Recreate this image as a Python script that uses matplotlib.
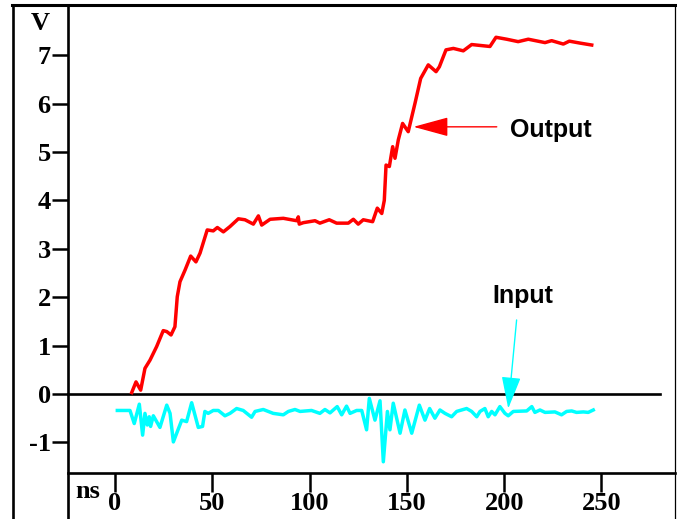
import matplotlib
matplotlib.use("Agg")
import matplotlib.pyplot as plt
from matplotlib.lines import Line2D

# output trace (red), ns / V
out_t = [8.6, 10.8, 13.2, 15.4, 18, 21.4, 24.8, 26.6, 28.8, 30.8,
         32, 33.4, 36, 38.9, 41.6, 43.7, 47.4, 50.5, 52.6, 55.7,
         59.1, 63.4, 66.8, 71.1, 73.7, 75.4, 79.7, 86.5, 93.4, 94.2,
         94.7, 96.8, 102.8, 105.3, 110.1, 113.9, 119.9, 122.5, 125, 127.6,
         132.4, 134.8, 137.1, 138.4, 139.3, 141, 142.7, 143.9, 145.6, 147.8,
         150.7, 154.2, 157.1, 161, 165, 166.7, 170.1, 173.9, 179, 183.3,
         192.7, 195.8, 201.3, 207.2, 212.4, 221, 224.4, 230.4, 233.5, 239,
         245]
out_v = [0.03, 0.25, 0.08, 0.53, 0.70, 0.98, 1.31, 1.29, 1.22, 1.39,
         2.01, 2.32, 2.56, 2.85, 2.73, 2.91, 3.39, 3.37, 3.44, 3.35,
         3.46, 3.62, 3.60, 3.51, 3.68, 3.49, 3.61, 3.63, 3.58, 3.66,
         3.51, 3.54, 3.58, 3.53, 3.60, 3.53, 3.53, 3.61, 3.51, 3.60,
         3.56, 3.84, 3.73, 4.0, 4.73, 4.70, 5.11, 4.87, 5.25, 5.59,
         5.42, 6.01, 6.52, 6.80, 6.66, 6.76, 7.11, 7.14, 7.09, 7.22,
         7.18, 7.37, 7.33, 7.28, 7.33, 7.26, 7.30, 7.23, 7.29, 7.25,
         7.21]

# input trace (cyan)
in_t = [1.2, 7.7, 9.9, 12.5, 14.2, 15.4, 16.6, 17.6, 18.3, 19.7,
        23.1, 26.6, 28.3, 30, 34.3, 36.8, 39.4, 42.8, 45, 46.2,
        47.9, 50.5, 53.1, 56.5, 59.1, 62.5, 65.9, 70.2, 72, 76.2,
        81.3, 86.5, 89.1, 92.5, 95.1, 101, 105.3, 107.9, 110.5, 114.2,
        116.5, 119, 120.8, 124.2, 126.8, 129.3, 130.7, 133.6, 136.2, 137.9,
        140, 141.3, 143, 146.5, 149, 152.5, 156.4, 159.3, 161.7, 164.4,
        167, 169.6, 173, 175.6, 180.7, 183.3, 185.9, 187.6, 190.1, 191.8,
        193.6, 195.3, 197.8, 200.4, 202.1, 204.7, 211.6, 214.2, 215.8, 218.4,
        221, 226.1, 229.5, 232.1, 234.7, 237.2, 240.7, 243.2, 245.8]
in_v = [-0.34, -0.34, -0.61, -0.21, -0.85, -0.40, -0.64, -0.47, -0.67, -0.45,
        -0.69, -0.23, -0.40, -0.99, -0.54, -0.57, -0.18, -0.69, -0.67, -0.36,
        -0.40, -0.34, -0.34, -0.45, -0.40, -0.30, -0.34, -0.48, -0.36, -0.32,
        -0.40, -0.43, -0.36, -0.32, -0.36, -0.34, -0.40, -0.32, -0.39, -0.26,
        -0.43, -0.25, -0.40, -0.34, -0.34, -0.74, -0.09, -0.54, -0.14, -1.40,
        -0.36, -0.74, -0.19, -0.81, -0.33, -0.81, -0.23, -0.54, -0.30, -0.50,
        -0.33, -0.40, -0.47, -0.36, -0.30, -0.36, -0.47, -0.36, -0.30, -0.47,
        -0.36, -0.43, -0.26, -0.40, -0.45, -0.36, -0.35, -0.26, -0.38, -0.33,
        -0.38, -0.37, -0.43, -0.36, -0.35, -0.38, -0.37, -0.38, -0.33]

x_ticks = [0, 50, 100, 150, 200, 250]
x_labels = ["0", "50", "100", "150", "200", "250"]
y_ticks = [-1, 0, 1, 2, 3, 4, 5, 6, 7]
y_labels = ["-1", "0", "1", "2", "3", "4", "5", "6", "7"]

W, H = 677, 519
fig = plt.figure(figsize=(W / 100, H / 100), dpi=100)

def fx(px):
    return px / W

def fy(py):
    return 1 - py / H

ax = fig.add_axes([fx(68), fy(473), fx(675) - fx(68), fy(5) - fy(473)])
ax.set_xlim(-24.15, 287.8)
ax.set_ylim(-1.632, 8.037)
for s in ax.spines.values():
    s.set_visible(False)

serif = dict(family="Liberation Serif", weight="bold", size=19)
sans = dict(family="Liberation Sans", weight="bold", size=18)

ax.set_xticks(x_ticks)
ax.set_xticklabels(x_labels, fontdict=serif)
ax.set_yticks(y_ticks)
ax.set_yticklabels(y_labels, fontdict=serif)
ax.tick_params(axis="x", direction="out", length=13.7, width=1.8, pad=0)
ax.tick_params(axis="y", direction="out", length=11.5, width=1.8, pad=1)

# zero line
ax.plot([-24.15, 280.3], [0, 0], color="black", lw=1.9, clip_on=False)

ax.plot(out_t, out_v, color="#ff0000", lw=2.5, solid_joinstyle="round")
ax.plot(in_t, in_v, color="#00ffff", lw=2.5, solid_joinstyle="round")

ax.annotate("", xy=(153.4, 5.52), xytext=(196.2, 5.52),
            arrowprops=dict(arrowstyle="-|>,head_length=2.2,head_width=0.6",
                            color="#ff0000", lw=1.0, shrinkA=0, shrinkB=0))
ax.text(203.2, 5.32, "Output", ha="left", va="baseline", fontdict=sans)

ax.annotate("", xy=(202.1, -0.30), xytext=(206.4, 1.53),
            arrowprops=dict(arrowstyle="-|>,head_length=2.0,head_width=0.6",
                            color="#00ffff", lw=1.0, shrinkA=0, shrinkB=0))
ax.text(209.8, 1.88, "Input", ha="center", va="baseline", fontdict=sans)

# frame lines
def fline(x0, y0, x1, y1, lw):
    fig.add_artist(Line2D([fx(x0), fx(x1)], [fy(y0), fy(y1)], color="black",
                          lw=lw, transform=fig.transFigure))

fline(13, 5, 13, 519, 1.9)
fline(12, 5, 676, 5, 2.2)
fline(675, 5, 675, 519, 0.9)
fline(68, 5, 68, 519, 1.9)
fline(68, 473, 675, 473, 1.9)

fig.text(fx(40), fy(24), "V", ha="center", va="center", fontdict=serif)
fig.text(fx(88), fy(492), "ns", ha="center", va="center", fontdict=serif)

fig.savefig("out.png", dpi=100)
